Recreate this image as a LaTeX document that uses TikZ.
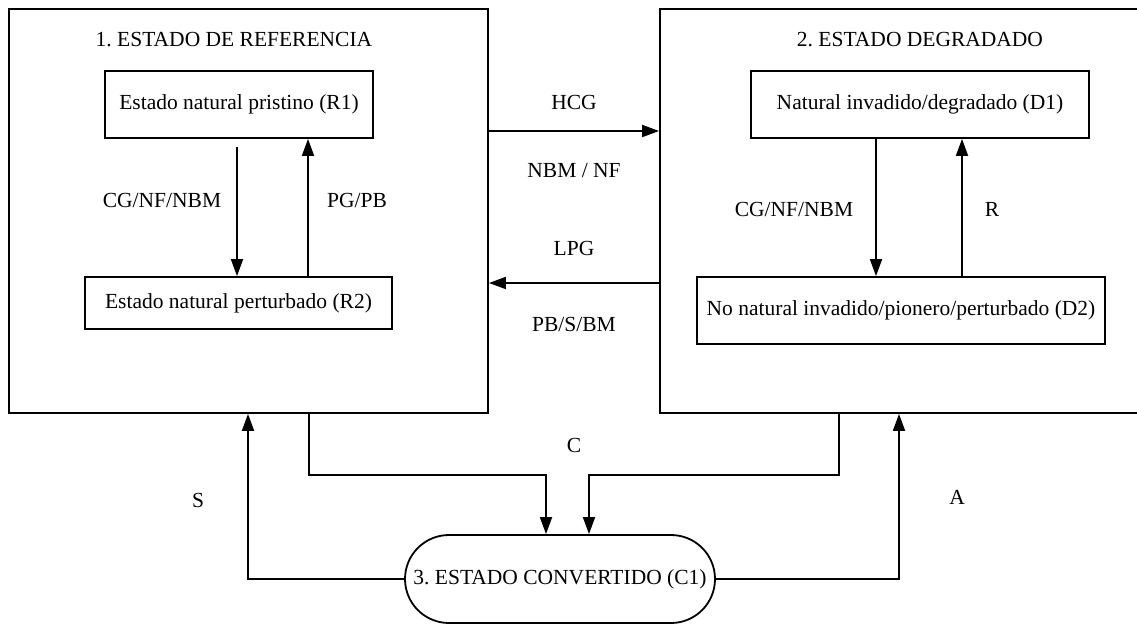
\documentclass[tikz,border=0pt]{standalone}
\usepackage{fontspec}
\setmainfont{Liberation Serif}
\usetikzlibrary{arrows.meta,shapes.misc}
\frenchspacing
\begin{document}
\begin{tikzpicture}[x=1pt,y=-1pt,
  every node/.style={font=\fontsize{21.5}{26}\selectfont, inner sep=0pt},
  frame/.style={draw, line width=1.8pt, rectangle},
  statebox/.style={draw, line width=1.8pt, rectangle, align=center},
  lbl/.style={anchor=base},
  arr/.style={line width=1.8pt, -{Triangle[length=17pt,width=12pt]}}]
\useasboundingbox (0,0) rectangle (1137,624);
\clip (0,0) rectangle (1137,624);

% the two large state frames
\node[frame, minimum width=479, minimum height=404] (big1) at (248.5,211) {};
\node[frame, minimum width=485, minimum height=404] (big2) at (902.5,211) {};

\node[lbl] (t1) at (234,46.7) {1. ESTADO DE REFERENCIA};
\node[lbl] (t2) at (920,46.7) {2. ESTADO DEGRADADO};

% inner states
\node[statebox, minimum width=268, minimum height=67] (R1) at (239,104.5) {Estado natural pristino (R1)};
\node[statebox, minimum width=307, minimum height=52] (R2) at (238.5,303) {Estado natural perturbado (R2)};
\node[statebox, minimum width=338, minimum height=67] (D1) at (920,104.5) {Natural invadido/degradado (D1)};
\node[statebox, minimum width=408, minimum height=67] (D2) at (901,310.5) {No natural invadido/pionero/perturbado (D2)};

% converted state
\node[draw, line width=1.8pt, rounded rectangle, minimum width=310, minimum height=88] (C1) at (560,579) {3. ESTADO CONVERTIDO (C1)};

% transitions inside the reference state
\coordinate (a1) at (237,147);
\draw[arr] (a1) -- (a1 |- R2.north);
\draw[arr] (R2.north -| 308,0) -- (R1.south -| 308,0);
\node[lbl] (l1) at (162,207) {CG/NF/NBM};
\node[lbl] (l2) at (357,207) {PG/PB};

% transitions inside the degraded state
\draw[arr] (D1.south -| 876,0) -- (D2.north -| 876,0);
\draw[arr] (D2.north -| 962,0) -- (D1.south -| 962,0);
\node[lbl] (l3) at (794,216) {CG/NF/NBM};
\node[lbl] (l4) at (992,216) {R};

% transitions between reference and degraded
\draw[arr] (big1.east |- 0,131) -- (big2.west |- 0,131);
\draw[arr] (big2.west |- 0,283) -- (big1.east |- 0,283);
\node[lbl] (l5) at (574,109) {HCG};
\node[lbl] (l6) at (574,177) {NBM / NF};
\node[lbl] (l7) at (574,255) {LPG};
\node[lbl] (l8) at (574,331) {PB/S/BM};

% conversion and recovery
\draw[arr] (big1.south -| 309,0) |- (546,475) -- (C1.north -| 546,0);
\draw[arr] (big2.south -| 839,0) |- (589,475) -- (C1.north -| 589,0);
\draw[arr] (C1.west) -| (big1.south -| 248,0);
\draw[arr] (C1.east) -| (big2.south -| 899,0);
\node[lbl] (l9) at (574,452) {C};
\node[lbl] (l10) at (198,507) {S};
\node[lbl] (l11) at (957,504) {A};
\end{tikzpicture}
\end{document}
